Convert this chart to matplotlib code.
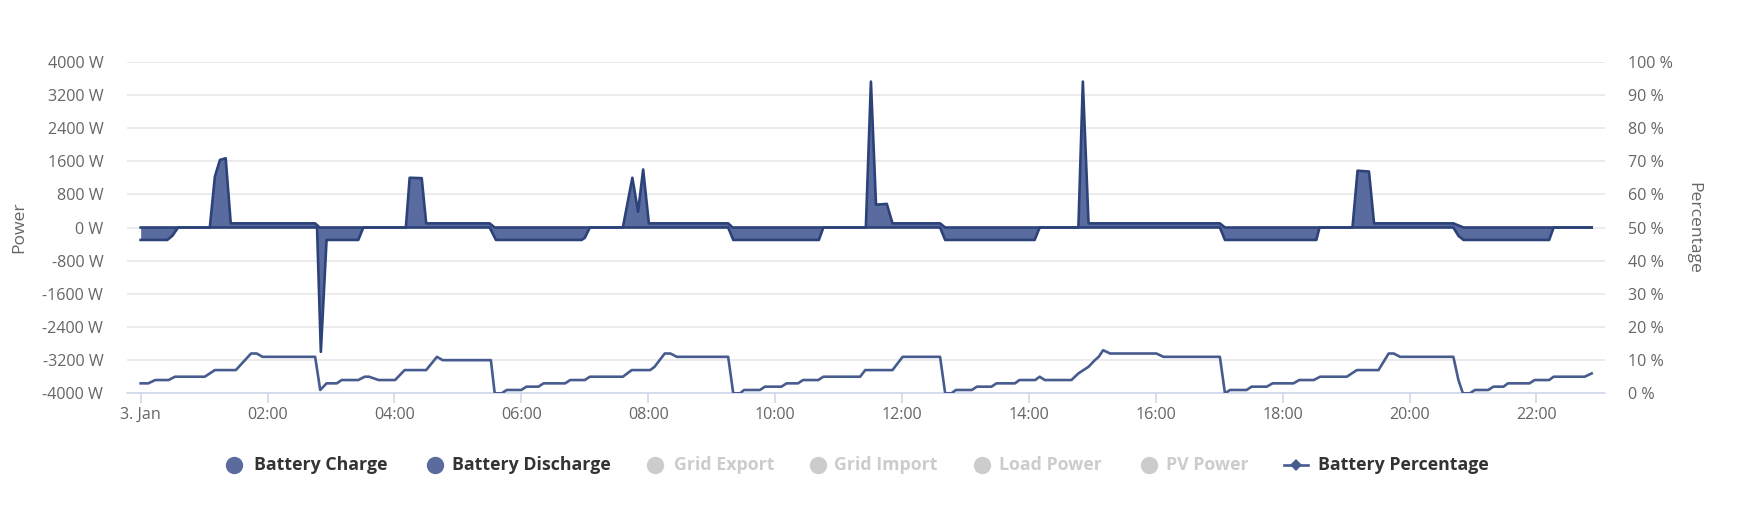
import matplotlib
matplotlib.use('Agg')
import matplotlib.pyplot as plt

plt.rcParams['font.family'] = ['Open Sans', 'DejaVu Sans']

# ---------------- data (hours since 3 Jan 00:00) ----------------
charge_t = [0.00, 1.09, 1.17, 1.25, 1.34, 1.42, 2.75, 2.82, 4.18, 4.24, 4.43, 4.50,
            5.50, 5.58, 7.60, 7.75, 7.84, 7.92, 8.01, 9.26, 9.33, 11.43, 11.51, 11.59,
            11.76, 11.85, 12.60, 12.68, 14.78, 14.85, 14.94, 17.01, 17.09, 19.10, 19.18,
            19.36, 19.44, 20.69, 20.85, 22.87]
charge_w = [0, 0, 1230, 1630, 1670, 100, 100, 0, 0, 1200, 1190, 100,
            100, 0, 0, 1200, 380, 1400, 100, 100, 0, 0, 3520, 550,
            570, 100, 100, 0, 0, 3520, 100, 100, 0, 0, 1370,
            1350, 100, 100, 0, 0]

discharge_t = [0.00, 0.42, 0.50, 0.59, 2.78, 2.84, 2.93, 3.43, 3.51, 5.50, 5.60,
               6.95, 7.00, 7.08, 9.26, 9.34, 10.69, 10.76, 12.60, 12.68, 14.09, 14.17,
               17.01, 17.09, 18.53, 18.58, 20.69, 20.77, 20.85, 22.20, 22.27, 22.87]
discharge_w = [-300, -300, -200, 0, 0, -3000, -300, -300, 0, 0, -300,
               -300, -250, 0, 0, -300, -300, 0, 0, -300, -300, 0,
               0, -300, -300, 0, 0, -200, -300, -300, 0, 0]

pct_t = [0.00, 0.12, 0.23, 0.44, 0.54, 1.01, 1.17, 1.50, 1.74, 1.83, 1.92, 2.75,
         2.83, 2.93, 3.09, 3.17, 3.43, 3.53, 3.60, 3.75, 4.01, 4.16, 4.50, 4.67,
         4.76, 5.52, 5.58, 5.69, 5.77, 6.00, 6.08, 6.27, 6.35, 6.69, 6.77, 7.00,
         7.08, 7.60, 7.74, 8.03, 8.10, 8.26, 8.35, 8.45, 9.26, 9.34, 9.45, 9.51,
         9.76, 9.84, 10.10, 10.18, 10.36, 10.44, 10.68, 10.76, 11.34, 11.42, 11.85,
         12.01, 12.60, 12.68, 12.78, 12.85, 13.10, 13.18, 13.41, 13.49, 13.78, 13.85,
         14.10, 14.17, 14.25, 14.67, 14.78, 14.94, 15.04, 15.10, 15.17, 15.28, 16.01,
         16.12, 17.01, 17.09, 17.17, 17.43, 17.51, 17.75, 17.84, 18.17, 18.26, 18.49,
         18.59, 19.01, 19.17, 19.51, 19.67, 19.75, 19.85, 20.69, 20.77, 20.84, 20.95,
         21.03, 21.24, 21.32, 21.48, 21.55, 21.89, 21.97, 22.20, 22.27, 22.76, 22.87]
pct_v = [3, 3, 4, 4, 5, 5, 7, 7, 12, 12, 11, 11,
         1, 3, 3, 4, 4, 5, 5, 4, 4, 7, 7, 11,
         10, 10, 0, 0, 1, 1, 2, 2, 3, 3, 4, 4,
         5, 5, 7, 7, 8, 12, 12, 11, 11, 0, 0, 1,
         1, 2, 2, 3, 3, 4, 4, 5, 5, 7, 7,
         11, 11, 0, 0, 1, 1, 2, 2, 3, 3, 4,
         4, 5, 4, 4, 6, 8, 10, 11, 13, 12, 12,
         11, 11, 0, 1, 1, 2, 2, 3, 3, 4, 4,
         5, 5, 7, 7, 12, 12, 11, 11, 4, 0, 0,
         1, 1, 2, 2, 3, 3, 4, 4, 5, 5, 6]

x_tick_hours = [0, 2, 4, 6, 8, 10, 12, 14, 16, 18, 20, 22]
x_tick_labels = ['3. Jan', '02:00', '04:00', '06:00', '08:00', '10:00', '12:00',
                 '14:00', '16:00', '18:00', '20:00', '22:00']
power_ticks = [-4000, -3200, -2400, -1600, -800, 0, 800, 1600, 2400, 3200, 4000]
pct_ticks = [0, 10, 20, 30, 40, 50, 60, 70, 80, 90, 100]

legend_labels = ['Battery Charge', 'Battery Discharge', 'Grid Export', 'Grid Import',
                 'Load Power', 'PV Power', 'Battery Percentage']
legend_visible = [True, True, False, False, False, False, True]

# ---------------- style ----------------
LINE = '#2c4279'
FILL = '#5a6b9f'
PCT = '#475b8f'
LEG = '#5b6b9e'
GRID = '#e6e6e6'
AXIS = '#ccd6eb'
LABEL = '#666666'

W, H = 1744, 514
fig = plt.figure(figsize=(W / 100, H / 100), dpi=100)
L, R, T, B = 126.7, 1605, 61.7, 393.3
ax = fig.add_axes([L / W, 1 - B / H, (R - L) / W, (B - T) / H])
ax.set_xlim(-0.22, 23.08)
ax.set_ylim(-4000, 4000)

ax.fill_between(discharge_t, 0, discharge_w, color=FILL, linewidth=0, zorder=2)
ax.fill_between(charge_t, 0, charge_w, color=FILL, linewidth=0, zorder=2)
ax.plot(discharge_t, discharge_w, color=LINE, lw=1.9, solid_joinstyle='round', zorder=3)
ax.plot(charge_t, charge_w, color=LINE, lw=1.9, solid_joinstyle='round', zorder=3)

ax.set_yticks(power_ticks)
ax.set_yticklabels([f'{v} W' for v in power_ticks])
ax.set_xticks(x_tick_hours)
ax.set_xticklabels(x_tick_labels)
ax.grid(axis='y', color=GRID, lw=1.1)
ax.set_axisbelow(True)
for s in ['top', 'left', 'right']:
    ax.spines[s].set_visible(False)
ax.spines['bottom'].set_color(AXIS)
ax.spines['bottom'].set_linewidth(1.1)
ax.tick_params(axis='x', colors=AXIS, length=7.5, width=1.1, labelcolor=LABEL,
               labelsize=11.6, pad=2.5)
ax.tick_params(axis='y', length=0, labelcolor=LABEL, labelsize=11.6, pad=16.8)

ax2 = ax.twinx()
ax2.set_ylim(0, 100)
ax2.plot(pct_t, pct_v, color=PCT, lw=1.9, solid_joinstyle='round', zorder=4)
ax2.set_yticks(pct_ticks)
ax2.set_yticklabels([f'{v} %' for v in pct_ticks])
for s in ['top', 'left', 'right', 'bottom']:
    ax2.spines[s].set_visible(False)
ax2.tick_params(axis='y', length=0, labelcolor=LABEL, labelsize=11.6, pad=16.5)

fig.text(19 / W, 1 - 227.5 / H, 'Power', rotation=90, ha='center', va='center',
         color=LABEL, fontsize=12.6)
fig.text(1693 / W, 1 - 227.5 / H, 'Percentage', rotation=270, ha='center', va='center',
         color=LABEL, fontsize=12.6)

# ---------------- legend ----------------
lg = fig.add_axes([0, 0, 1, 1], facecolor='none')
lg.set_xlim(0, W)
lg.set_ylim(H, 0)
lg.axis('off')
sym_x = [233.6, 435, 655, 817.6, 982, 1149, 1296]
txt_x = [253.6, 451.6, 674, 834, 999, 1166, 1318]
ly = 465
for i, (lab, vis) in enumerate(zip(legend_labels, legend_visible)):
    col = '#333333' if vis else '#cccccc'
    mcol = LEG if vis else '#cccccc'
    if i == len(legend_labels) - 1:
        lg.plot([sym_x[i] - 12, sym_x[i] + 12], [ly, ly], color=PCT, lw=1.9)
        lg.plot([sym_x[i]], [ly], marker='D', ms=6, color=PCT, mew=0)
    else:
        lg.plot([sym_x[i]], [ly], marker='o', ms=12.5, color=mcol, mew=0)
    lg.text(txt_x[i], ly, lab, ha='left', va='center', color=col, fontsize=12.8,
            fontweight='bold')

fig.savefig('out.png', dpi=100)
